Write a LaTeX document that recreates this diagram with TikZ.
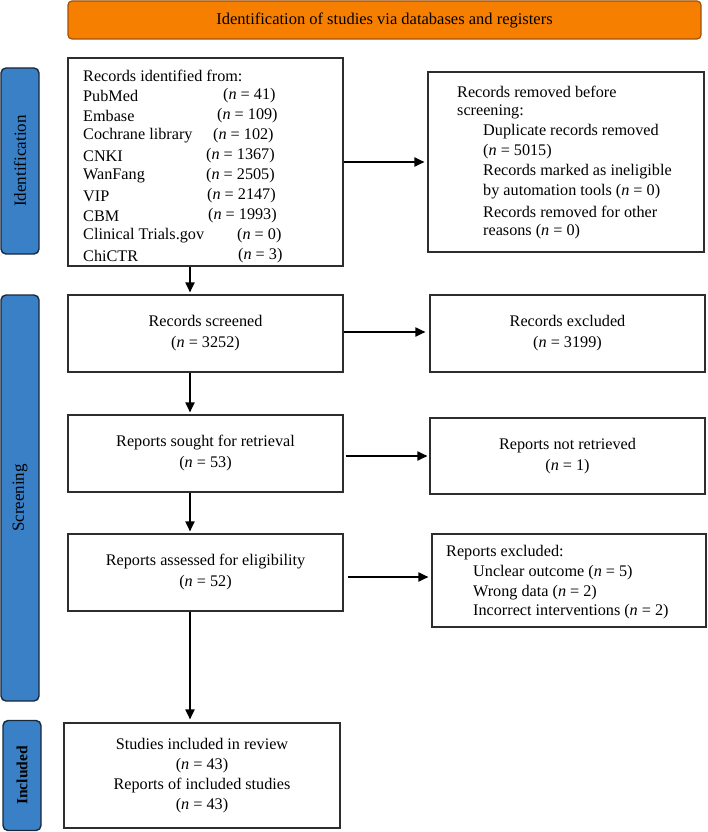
\documentclass[tikz,border=0pt]{standalone}
\usepackage{fontspec}
\setmainfont{Liberation Serif}
\usetikzlibrary{arrows.meta,calc}
\definecolor{orangefill}{RGB}{247,127,0}
\definecolor{orangeline}{RGB}{160,80,10}
\definecolor{bluefill}{RGB}{58,128,198}
\definecolor{blueline}{RGB}{25,40,60}
\definecolor{boxline}{RGB}{45,45,45}
\newcommand{\nvar}{\textit{n}}
\begin{document}
\begin{tikzpicture}[x=1pt,y=-1pt,
  box/.style={draw=boxline,line width=1.1pt,fill=white,inner sep=0pt,align=center,font=\fontsize{16.2}{21}\selectfont},
  side/.style={draw=blueline,line width=1.4pt,fill=bluefill,rounded corners=5pt,inner sep=0pt},
  sidetext/.style={rotate=90,inner sep=0pt,font=\fontsize{17}{20}\selectfont},
  txt/.style={anchor=west,inner sep=0pt,font=\fontsize{16.2}{20}\selectfont},
  flow/.style={line width=1.8pt,-{Triangle[length=10pt,width=9pt]}}
]
\useasboundingbox (0,0) rectangle (707,832);

% header
\node[draw=orangeline,line width=1.2pt,fill=orangefill,rounded corners=4pt,
      minimum width=633pt,minimum height=38pt,inner sep=0pt,
      font=\fontsize{16.5}{20}\selectfont] (head) at (384.5,20) {Identification of studies via databases and registers};

% side labels
\node[side,minimum width=38pt,minimum height=186pt] (sideid) at (20,161) {};
\node[sidetext] (sideidtxt) at (sideid.center) {Identification};
\node[side,minimum width=38pt,minimum height=406pt] (sidescr) at (20,498) {};
\node[sidetext] (sidescrtxt) at (sidescr.center) {Screening};
\node[side,minimum width=38pt,minimum height=110pt] (sideinc) at (22,775.5) {};
\node[sidetext,font=\fontsize{15.5}{20}\selectfont\bfseries] (sideinctxt) at (sideinc.center) {Included};

% boxes
\node[box,minimum width=275pt,minimum height=208pt] (ident) at (205.5,162) {};
\node[box,minimum width=276pt,minimum height=180pt] (removed) at (566,162) {};
\node[box,minimum width=275pt,minimum height=77pt] (screened) at (205.5,333.5) {Records screened\\(\nvar{} = 3252)};
\node[box,minimum width=275pt,minimum height=77pt] (excluded) at (567.5,333.5) {Records excluded\\(\nvar{} = 3199)};
\node[box,minimum width=275pt,minimum height=77pt] (sought) at (205.5,453.5) {Reports sought for retrieval\\(\nvar{} = 53)};
\node[box,minimum width=275pt,minimum height=76pt] (notret) at (567.5,456) {Reports not retrieved\\(\nvar{} = 1)};
\node[box,minimum width=275pt,minimum height=77pt] (assessed) at (205.5,572.5) {Reports assessed for eligibility\\(\nvar{} = 52)};
\node[box,minimum width=274pt,minimum height=93pt] (repexcl) at (569,580.5) {};
\node[box,minimum width=276pt,minimum height=105pt,font=\fontsize{16.2}{20}\selectfont] (included) at (202,775.5) {Studies included in review\\(\nvar{} = 43)\\Reports of included studies\\(\nvar{} = 43)};

% records identified list
\node[txt] (l0) at (83,76) {Records identified from:};
\node[txt] (l1) at (83,96) {PubMed};
\node[txt] (l2) at (83,116) {Embase};
\node[txt] (l3) at (83,136) {Cochrane library};
\node[txt] (l4) at (83,156) {CNKI};
\node[txt] (l5) at (83,176) {WanFang};
\node[txt] (l6) at (83,196) {VIP};
\node[txt] (l7) at (83,216) {CBM};
\node[txt] (l8) at (83,236) {Clinical Trials.gov};
\node[txt] (l9) at (83,256) {ChiCTR};
\node[txt] (n1) at (223,96) {(\nvar{} = 41)};
\node[txt] (n2) at (217,116) {(\nvar{} = 109)};
\node[txt] (n3) at (213,136) {(\nvar{} = 102)};
\node[txt] (n4) at (206,156) {(\nvar{} = 1367)};
\node[txt] (n5) at (206,176) {(\nvar{} = 2505)};
\node[txt] (n6) at (207,196) {(\nvar{} = 2147)};
\node[txt] (n7) at (208,216) {(\nvar{} = 1993)};
\node[txt] (n8) at (237,236) {(\nvar{} = 0)};
\node[txt] (n9) at (238,256) {(\nvar{} = 3)};

% removed list
\node[txt] (r1) at (457,92) {Records removed before};
\node[txt] (r2) at (457,112) {screening:};
\node[txt] (r3) at (483,132) {Duplicate records removed};
\node[txt] (r4) at (483,152) {(\nvar{} = 5015)};
\node[txt] (r5) at (483,172) {Records marked as ineligible};
\node[txt] (r6) at (483,192) {by automation tools (\nvar{} = 0)};
\node[txt] (r7) at (483,212) {Records removed for other};
\node[txt] (r8) at (483,232) {reasons (\nvar{} = 0)};

% reports excluded list
\node[txt] (e1) at (446,553) {Reports excluded:};
\node[txt] (e2) at (473,573) {Unclear outcome (\nvar{} = 5)};
\node[txt] (e3) at (473,593) {Wrong data (\nvar{} = 2)};
\node[txt] (e4) at (473,612) {Incorrect interventions (\nvar{} = 2)};

% connectors
\coordinate (vx) at (190,0);
\draw[flow,shorten >=2pt] (ident.south -| vx) -- (screened.north -| vx);
\draw[flow,shorten >=2pt] (screened.south -| vx) -- (sought.north -| vx);
\draw[flow,shorten >=2pt] (sought.south -| vx) -- (assessed.north -| vx);
\draw[flow,shorten >=3pt] (assessed.south -| vx) -- (included.north -| vx);
\draw[flow,shorten >=3pt] (ident.east) -- (removed.west);
\draw[flow,shorten >=4pt] (screened.east |- 0,332) -- (excluded.west |- 0,332);
\draw[flow,shorten <=2pt,shorten >=2pt] (sought.east |- notret.west) -- (notret.west);
\draw[flow,shorten <=4pt,shorten >=3pt] (assessed.east |- 0,577) -- (repexcl.west |- 0,577);
\end{tikzpicture}
\end{document}
